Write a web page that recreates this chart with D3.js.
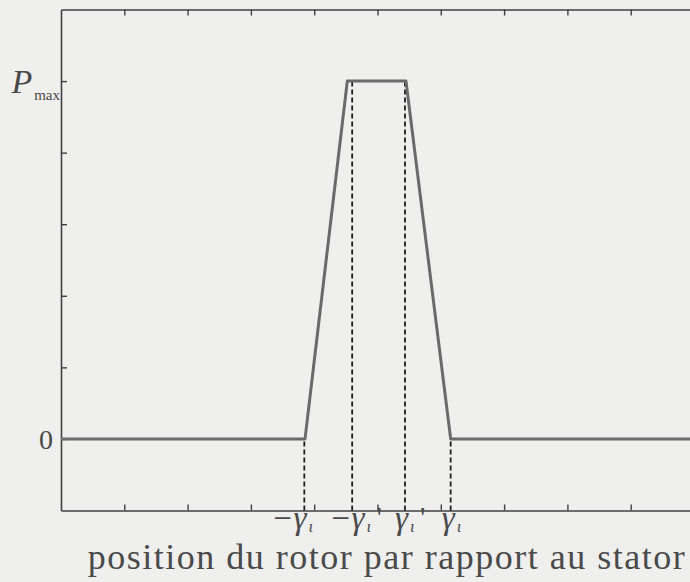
<!DOCTYPE html>
<html><head><meta charset="utf-8">
<script src="https://cdn.jsdelivr.net/npm/d3@7"></script>
<style>
html,body{margin:0;padding:0;background:#efefed;}
svg{display:block;}
text{font-family:"Liberation Serif","DejaVu Serif",serif;fill:#4a4a4a;}
</style></head>
<body>
<script>
// Data
const curveX = [0, 3.855, 4.523, 5.45, 6.156, 10];
const curveY = [0, 0, 1, 1, 0, 0];
const markerX = [3.844, 4.60, 5.434, 6.156];
const markerTop = [0, 1, 1, 0];
const markerLabels = [["−γ","ι",""],["−γ","ι","'"],["γ","ι","'"],["γ","ι",""]];
const xTicks = [1,2,3,4,5,6,7,8,9];
const yTicks = [-0.2,0,0.2,0.4,0.6,0.8,1,1.2];
const yLabels = [{v:0, main:"0", sub:""},{v:1, main:"P", sub:"max"}];
const xTitle = "position du rotor par rapport au stator";

const W = 690, H = 582;
const svg = d3.select("body").append("svg").attr("width", W).attr("height", H);
const x = d3.scaleLinear().domain([0,10]).range([61, 694]);
const y = d3.scaleLinear().domain([-0.2,1.2]).range([510.5, 9.5]);

const axColor = "#404040";
const gt = svg.append("g").attr("transform", `translate(0,${y(1.2)})`)
  .call(d3.axisTop(x).tickValues(xTicks).tickSizeInner(-6).tickSizeOuter(0).tickFormat(""));
const gb = svg.append("g").attr("transform", `translate(0,${y(-0.2)})`)
  .call(d3.axisBottom(x).tickValues(xTicks).tickSizeInner(-6).tickSizeOuter(0).tickFormat(""));
const gl = svg.append("g").attr("transform", `translate(${x(0)},0)`)
  .call(d3.axisLeft(y).tickValues(yTicks.filter(v=>v>-0.2 && v<1.2)).tickSizeInner(-6).tickSizeOuter(0).tickFormat(""));
[gt,gb,gl].forEach(g=>{
  g.select(".domain").attr("stroke", axColor).attr("stroke-width", 1.6);
  g.selectAll(".tick line").attr("stroke", axColor).attr("stroke-width", 1.4);
});

// dashed markers
svg.append("g").selectAll("line").data(markerX).join("line")
  .attr("x1", d=>x(d)).attr("x2", d=>x(d))
  .attr("y1", y(-0.2)).attr("y2", (d,i)=>y(markerTop[i]))
  .attr("stroke", "#1e1e1e").attr("stroke-width", 1.8).attr("stroke-dasharray", "5,3");

// curve
const line = d3.line().x(d=>x(d[0])).y(d=>y(d[1]));
svg.append("path").datum(curveX.map((v,i)=>[v,curveY[i]]))
  .attr("d", line).attr("fill","none").attr("stroke","#6a6a6a").attr("stroke-width",3).attr("stroke-linejoin","round");

// y labels
yLabels.forEach(l=>{
  const t = svg.append("text").attr("text-anchor","end")
    .attr("x", l.sub ? 60 : 53).attr("y", y(l.v) + (l.sub ? 12 : 10));
  if (l.sub) {
    t.append("tspan").text(l.main).attr("font-style","italic").attr("font-size", 34);
    t.append("tspan").text(l.sub).attr("font-size", 15).attr("dy", 7).attr("dx", 2);
  } else {
    t.text(l.main).attr("font-size", 28);
  }
});

// marker labels
const offs = [-12, -2, 0, 1];
markerLabels.forEach((m,i)=>{
  const cx = x(markerX[i]) + offs[i];
  const t = svg.append("text").attr("text-anchor","middle")
    .attr("x", cx).attr("y", 529);
  t.append("tspan").text(m[0]).attr("font-style","italic").attr("font-size", 33);
  t.append("tspan").text(m[1]).attr("font-style","italic").attr("font-size", 17).attr("dy", 3).attr("dx", 2);
  if (m[2]) {
    const bb = t.node().getBBox();
    svg.append("text").attr("x", bb.x + bb.width + 5).attr("y", 527)
      .attr("font-family", "DejaVu Sans").attr("font-size", 30).attr("fill", "#222").text(m[2]);
  }
});

// x title
svg.append("text").attr("x", 387).attr("y", 569).attr("text-anchor","middle")
  .attr("font-size", 36).attr("letter-spacing", 1.5).text(xTitle);
</script>
</body></html>
